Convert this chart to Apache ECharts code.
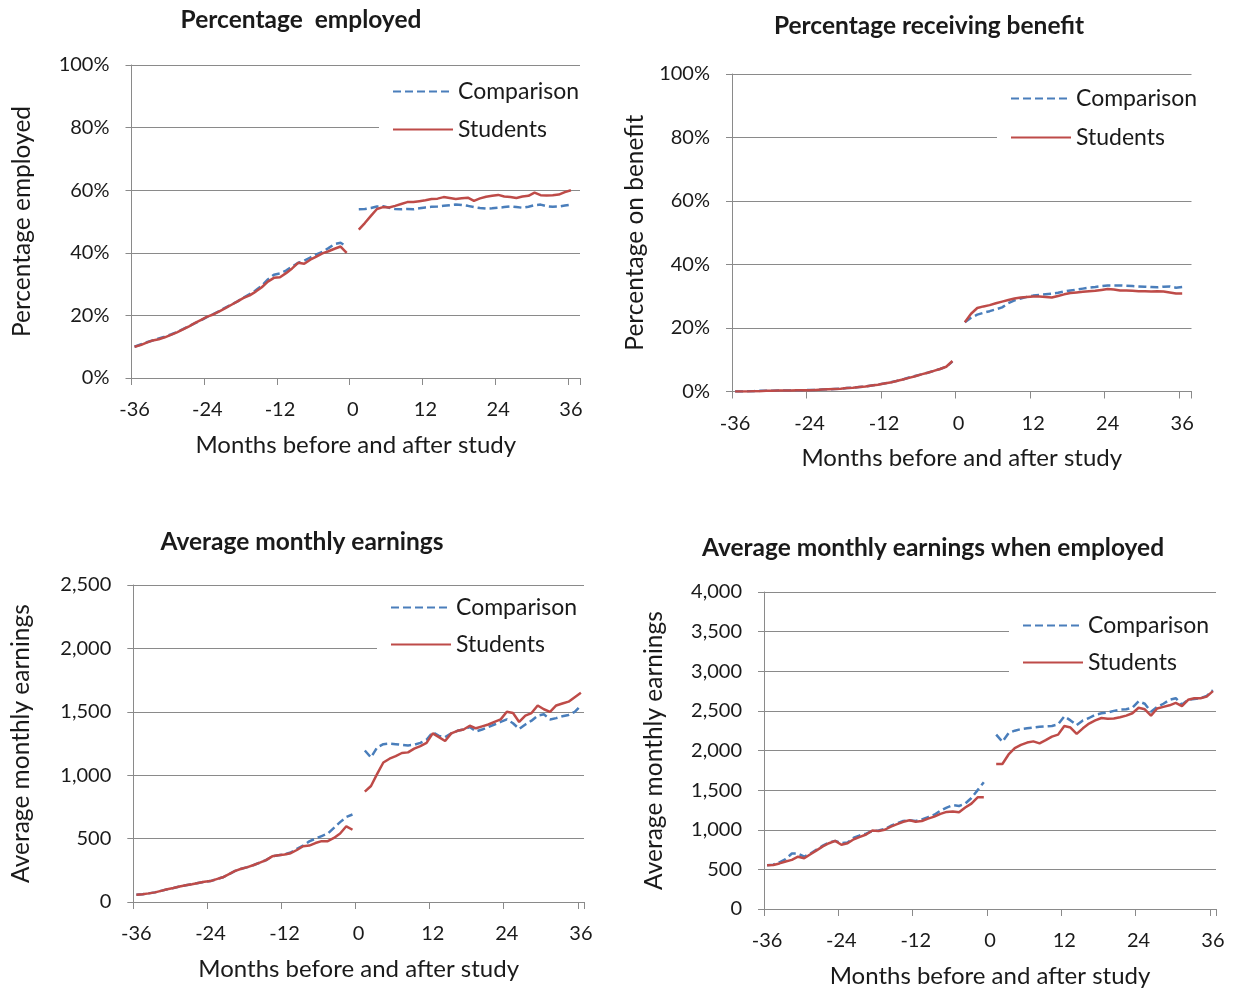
<!DOCTYPE html>
<html>
<head>
<meta charset="utf-8">
<script src="https://cdn.jsdelivr.net/npm/echarts@6/dist/echarts.min.js"></script>
<style>
html,body{margin:0;padding:0;background:#fff;}
#c{width:1235px;height:991px;}
</style>
</head>
<body>
<div id="c"></div>
<script>
// Months on the category axis (top panels run one slot past 36, as in the original)
const monthsTop = [-36,-35,-34,-33,-32,-31,-30,-29,-28,-27,-26,-25,-24,-23,-22,-21,-20,-19,-18,-17,-16,-15,-14,-13,-12,-11,-10,-9,-8,-7,-6,-5,-4,-3,-2,-1,0,1,2,3,4,5,6,7,8,9,10,11,12,13,14,15,16,17,18,19,20,21,22,23,24,25,26,27,28,29,30,31,32,33,34,35,36,37];
const monthsBottom = monthsTop.slice(0, 73);

const seriesNames = ['Comparison', 'Students'];
const titles = ['Percentage  employed', 'Percentage receiving benefit', 'Average monthly earnings', 'Average monthly earnings when employed'];
const yNames = ['Percentage employed', 'Percentage on benefit', 'Average monthly earnings', 'Average monthly earnings'];
const xName = 'Months before and after study';

// Panel 1: percentage employed (%), months -36..-1 and 1..36
const empCompPre = [10.0,10.7,11.4,12.0,12.6,13.2,13.9,14.7,15.6,16.6,17.5,18.5,19.5,20.4,21.4,22.5,23.5,24.5,25.7,26.8,28.0,29.5,31.5,33.0,33.4,34.3,35.6,36.8,37.5,38.5,39.5,40.3,41.5,42.8,43.2,42.0];
const empCompPost = [53.9,54.0,54.3,54.8,54.9,54.4,54.0,53.9,54.0,53.9,54.2,54.5,54.7,54.8,55.0,55.2,55.4,55.3,55.0,54.6,54.3,54.1,54.2,54.4,54.6,54.8,54.6,54.4,54.7,55.2,55.4,54.9,54.7,54.8,55.1,55.4];
const empStuPre = [10.0,10.5,11.3,12.0,12.4,13.0,13.8,14.6,15.5,16.5,17.6,18.6,19.6,20.3,21.3,22.3,23.4,24.5,25.6,26.4,27.6,29.0,30.8,32.0,32.2,33.5,35.0,36.8,36.5,37.8,38.8,39.8,40.5,41.3,42.0,40.0];
const empStuPost = [47.4,49.5,51.8,54.0,54.6,54.5,55.0,55.6,56.2,56.2,56.5,56.8,57.2,57.3,57.8,57.5,57.2,57.4,57.6,56.6,57.4,57.9,58.2,58.5,58.0,57.8,57.5,58.0,58.2,59.2,58.4,58.3,58.4,58.6,59.4,60.0];

// Panel 2: percentage receiving benefit (%)
const benCompPre = [0.0,0.0,0.1,0.1,0.2,0.2,0.2,0.3,0.3,0.3,0.4,0.4,0.5,0.5,0.6,0.7,0.8,0.9,1.1,1.2,1.4,1.6,1.9,2.2,2.5,2.9,3.3,3.8,4.4,4.9,5.4,5.9,6.5,7.1,7.8,9.4];
const benCompPost = [21.8,23.2,24.2,24.8,25.3,25.9,26.5,27.8,28.7,29.3,29.8,30.2,30.4,30.6,30.8,31.1,31.5,31.8,32.1,32.4,32.7,32.9,33.2,33.4,33.4,33.4,33.3,33.2,33.1,33.0,32.9,32.8,33.0,33.1,32.7,32.9];
const benStuPre = [0.0,0.0,0.0,0.1,0.1,0.2,0.2,0.3,0.3,0.3,0.4,0.4,0.4,0.5,0.6,0.7,0.8,0.9,1.1,1.2,1.4,1.6,1.9,2.1,2.5,2.8,3.3,3.8,4.3,4.8,5.4,5.9,6.5,7.1,7.8,9.6];
const benStuPost = [21.8,24.5,26.3,26.8,27.2,27.8,28.3,28.8,29.3,29.6,29.8,29.9,29.9,29.8,29.6,30.1,30.6,31.0,31.2,31.4,31.6,31.7,32.0,32.3,32.1,31.8,31.8,31.7,31.6,31.6,31.5,31.6,31.5,31.2,30.9,30.9];

// Panel 3: average monthly earnings
const earnCompPre = [58,62,68,76,88,100,110,122,132,140,150,160,165,180,195,220,245,262,275,292,310,330,360,368,375,390,420,445,478,500,520,540,585,630,670,690];
const earnCompPost = [1195,1140,1220,1245,1250,1245,1240,1235,1240,1255,1280,1340,1310,1300,1330,1350,1360,1380,1345,1360,1380,1400,1420,1440,1410,1365,1400,1430,1470,1480,1440,1450,1465,1475,1500,1550];
const earnStuPre = [58,62,68,76,88,100,110,122,132,140,150,160,165,180,195,220,245,262,275,292,310,330,360,368,375,385,410,440,445,465,480,480,505,540,597,570];
const earnStuPost = [870,915,1010,1100,1130,1150,1175,1180,1210,1230,1255,1330,1300,1270,1330,1350,1360,1390,1370,1385,1400,1420,1440,1500,1490,1420,1470,1490,1550,1520,1500,1550,1565,1580,1615,1650];

// Panel 4: average monthly earnings when employed
const empEarnCompPre = [552,560,590,630,700,700,660,700,750,800,840,860,830,840,900,930,950,985,990,1010,1050,1080,1110,1120,1110,1130,1160,1190,1240,1280,1310,1300,1330,1400,1500,1600];
const empEarnCompPost = [2200,2110,2220,2250,2270,2280,2290,2300,2305,2310,2330,2430,2380,2320,2380,2410,2450,2470,2480,2500,2515,2520,2540,2620,2590,2490,2550,2590,2640,2660,2580,2640,2650,2660,2690,2760];
const empEarnStuPre = [552,555,575,600,620,660,640,690,740,790,830,860,810,830,880,910,940,990,985,1000,1040,1070,1100,1120,1100,1110,1140,1165,1200,1225,1230,1220,1280,1330,1410,1410];
const empEarnStuPost = [1830,1830,1950,2030,2070,2100,2115,2090,2130,2175,2200,2310,2290,2210,2280,2340,2380,2410,2400,2405,2420,2440,2470,2540,2520,2440,2530,2550,2570,2600,2560,2640,2660,2660,2680,2750];

const yMax = [100, 100, 2500, 4000];
const yStep = [20, 20, 500, 500];

function joinSeries(pre, post) { return pre.concat([null], post); }

const FONT = 'Lato';
const TXT = '#1a1a1a';
const GRIDC = '#8a8a8a';
const BLUE = '#4a7ebb';
const RED = '#be4b48';

const grids = [
  {left: 131.5, top: 65, width: 448.5, height: 313},
  {left: 732, top: 74, width: 459.5, height: 317.5},
  {left: 133.3, top: 585, width: 450.7, height: 317},
  {left: 764, top: 592, width: 452, height: 317}
];
const titlePos = [[301, 8], [929, 14], [302, 530], [933, 536]];
const yNameGap = [97, 84, 100, 97];
const legendPos = [[379, 70, 15, 10], [997, 77, 16, 10], [377, 587, 14, 9], [1009, 604, 14, 10]];

const pct = v => v + '%';
const comma = v => v.toLocaleString('en-US');

const option = {
  backgroundColor: '#fff',
  animation: false,
  textStyle: {fontFamily: FONT},
  title: titles.map((t, i) => ({
    text: t, left: titlePos[i][0], top: titlePos[i][1], textAlign: 'center', padding: 0,
    textStyle: {fontFamily: FONT, fontWeight: 'bold', fontSize: 24.5, color: TXT}
  })),
  legend: legendPos.map((p, i) => ({
    data: seriesNames, orient: 'vertical', left: p[0], top: p[1],
    padding: [p[3], 10, 12, 13], backgroundColor: '#fff', itemWidth: 60, itemHeight: 22, itemGap: p[2],
    selectedMode: false,
    itemStyle: {opacity: 0},
    textStyle: {fontFamily: FONT, fontSize: 23, color: TXT}
  })),
  grid: grids.map(g => Object.assign({containLabel: false}, g)),
  xAxis: grids.map((g, i) => ({
    type: 'category', gridIndex: i, data: i < 2 ? monthsTop : monthsBottom,
    boundaryGap: true,
    name: xName, nameLocation: 'middle', nameGap: 55,
    nameTextStyle: {fontFamily: FONT, fontSize: 24, color: TXT},
    axisLine: {show: true, lineStyle: {color: GRIDC, width: 1}},
    axisTick: {show: true, interval: 11, length: 7, lineStyle: {color: GRIDC}},
    axisLabel: {interval: 11, margin: 22, fontFamily: FONT, fontSize: 20, color: TXT},
    splitLine: {show: false}
  })),
  yAxis: grids.map((g, i) => ({
    type: 'value', gridIndex: i, min: 0, max: yMax[i], interval: yStep[i],
    name: yNames[i], nameLocation: 'middle', nameRotate: 90, nameGap: yNameGap[i],
    nameTextStyle: {fontFamily: FONT, fontSize: 24.5, color: TXT},
    axisLine: {show: true, lineStyle: {color: GRIDC, width: 1}},
    axisTick: {show: true, length: 6, lineStyle: {color: GRIDC}},
    axisLabel: {margin: 22, fontFamily: FONT, fontSize: 20, color: TXT, formatter: i < 2 ? pct : comma},
    splitLine: {show: true, lineStyle: {color: GRIDC, width: 1}}
  })),
  series: []
};

const panels = [
  [empCompPre, empCompPost, empStuPre, empStuPost],
  [benCompPre, benCompPost, benStuPre, benStuPost],
  [earnCompPre, earnCompPost, earnStuPre, earnStuPost],
  [empEarnCompPre, empEarnCompPost, empEarnStuPre, empEarnStuPost]
];
panels.forEach((d, i) => {
  option.series.push({
    name: 'Comparison', type: 'line', xAxisIndex: i, yAxisIndex: i,
    data: joinSeries(d[0], d[1]), symbol: 'none', showSymbol: false, connectNulls: false,
    lineStyle: {color: BLUE, width: 2.5, type: [8, 4]}, itemStyle: {color: BLUE, opacity: 0}, z: 2
  });
  option.series.push({
    name: 'Students', type: 'line', xAxisIndex: i, yAxisIndex: i,
    data: joinSeries(d[2], d[3]), symbol: 'none', showSymbol: false, connectNulls: false,
    lineStyle: {color: RED, width: 2.5, type: 'solid'}, itemStyle: {color: RED, opacity: 0}, z: 3
  });
});

const chart = echarts.init(document.getElementById('c'), null, {renderer: 'canvas'});
chart.setOption(option);
</script>
</body>
</html>
